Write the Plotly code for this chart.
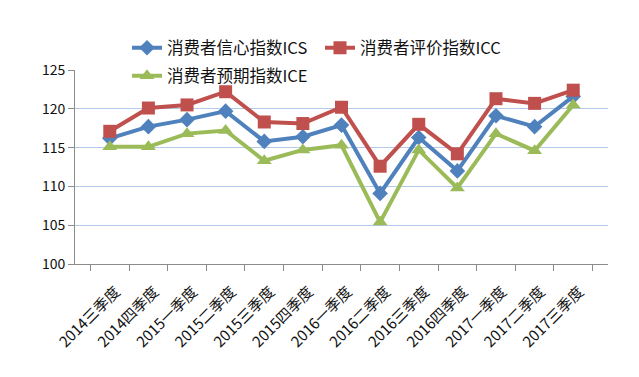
import plotly.graph_objects as go

categories = ["2014三季度", "2014四季度", "2015一季度", "2015二季度", "2015三季度", "2015四季度",
              "2016一季度", "2016二季度", "2016三季度", "2016四季度", "2017一季度", "2017二季度", "2017三季度"]
ics = [116.2, 117.7, 118.6, 119.7, 115.8, 116.4, 117.9, 109.1, 116.3, 112.0, 119.1, 117.7, 121.6]
icc = [117.1, 120.1, 120.5, 122.2, 118.3, 118.1, 120.2, 112.6, 118.0, 114.2, 121.3, 120.7, 122.4]
ice = [115.1, 115.1, 116.8, 117.2, 113.3, 114.7, 115.3, 105.4, 114.7, 109.8, 116.8, 114.6, 120.5]
names = ["消费者信心指数ICS", "消费者评价指数ICC", "消费者预期指数ICE"]
colors = ["#4F81BD", "#C0504D", "#9BBB59"]
symbols = ["diamond", "square", "triangle-up"]
sizes = [12, 13, 13]
legends = ["legend", "legend", "legend2"]

FONT = "Noto Sans CJK SC, Noto Sans, sans-serif"
W, H = 639, 377

fig = go.Figure()
for vals, name, c, s, sz, lg in zip([ics, icc, ice], names, colors, symbols, sizes, legends):
    fig.add_trace(go.Scatter(
        x=categories, y=vals, name=name, mode="lines+markers",
        line=dict(color=c, width=4),
        marker=dict(symbol=s, size=sz, color=c),
        legend=lg,
    ))

fig.update_layout(
    width=W, height=H,
    margin=dict(l=75, r=31, t=70, b=113, autoexpand=False),
    paper_bgcolor="white", plot_bgcolor="white",
    font=dict(family=FONT, size=13, color="#000000"),
    showlegend=True,
    legend=dict(orientation="h", xref="container", yref="container",
                x=127 / W, y=1 - 48 / H, xanchor="left", yanchor="middle",
                font=dict(size=16.5, family=FONT, color="#111111"), bgcolor="rgba(0,0,0,0)",
                itemwidth=30, entrywidth=148),
    legend2=dict(orientation="h", xref="container", yref="container",
                 x=127 / W, y=1 - 76 / H, xanchor="left", yanchor="middle",
                 font=dict(size=16.5, family=FONT, color="#111111"), bgcolor="rgba(0,0,0,0)",
                 itemwidth=30),
    xaxis=dict(
        type="category", showgrid=False, showline=True, linecolor="#8C8C8C", linewidth=1,
        ticks="outside", tickson="boundaries", ticklen=6, tickcolor="#8C8C8C",
        tickangle=-45, tickfont=dict(size=15, family=FONT, color="#111111"), zeroline=False,
        automargin=False, ticklabelstandoff=12, ticklabelshift=6,
    ),
    yaxis=dict(
        range=[100, 125], dtick=5, showgrid=True, gridcolor="#B3CAEA", gridwidth=1,
        showline=True, linecolor="#8C8C8C", linewidth=1, ticks="outside", ticklen=6,
        tickcolor="#8C8C8C", tickfont=dict(size=14, family=FONT, color="#111111"), zeroline=False,
        automargin=False,
    ),
)

fig.write_html("out.html", config={"displayModeBar": False},
               post_script="document.body.style.margin='0';")
